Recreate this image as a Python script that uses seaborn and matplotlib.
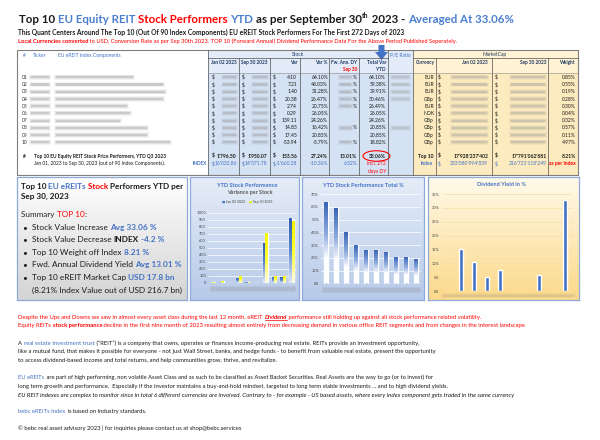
import numpy as np
import pandas as pd
import matplotlib
matplotlib.use("Agg")
import matplotlib.pyplot as plt
import seaborn as sns
from matplotlib.patches import Rectangle, Ellipse, Polygon
from matplotlib.lines import Line2D
from matplotlib.colors import LinearSegmentedColormap
from matplotlib.font_manager import FontProperties
from matplotlib.ticker import FuncFormatter

# values
stocks = ["01", "02", "03", "04", "05", "06", "07", "08", "09", "10"]
jan_price = [6.4, 15.0, 4.5, 77.0, 13.2, 1.1, 573.4, 90.3, 83.7, 931.6]
sep_price = [10.5, 22.2, 5.9, 97.4, 15.9, 1.4, 712.5, 105.1, 101.1, 877.7]
var_usd = [4.10, 7.21, 1.40, 20.38, 2.74, 0.29, 139.11, 14.83, 17.45, -53.94]
var_pct = [64.10, 48.03, 31.28, 26.47, 20.75, 26.05, 24.26, 16.42, 20.85, -5.79]
total_var_pct = [64.10, 59.38, 39.91, 30.46, 26.49, 26.05, 24.26, 20.85, 20.85, 18.82]
div_yield = [0, 15.0, 10.6, 5.2, 7.6, 0, 0, 5.8, 0, 32.8]
currency = ["EUR", "EUR", "EUR", "GBp", "EUR", "NOK", "GBp", "GBp", "GBp", "GBp"]
weight_pct = [0.85, 0.55, 0.19, 0.28, 0.30, 0.04, 0.32, 0.57, 0.11, 4.97]
has_dy = [1, 1, 1, 1, 1, 0, 0, 1, 0, 1]
has_pe = [1, 1, 1, 1, 0, 0, 0, 1, 0, 0]

top10_stock = ["1'796.50", "1'950.07", "153.56", "27.24%", "13.01%", "33.06%"]
index_stock = ["16'032.86", "14'371.78", "-1'660.28", "-10.36%", "6.52%"]
top10_mcap = ["17'928'237'402", "17'791'062'881", "8.21%"]
index_mcap = ["233'080'994'839", "216'721'118'249"]

W, H = 600, 440
FONT = ["Lato", "DejaVu Sans"]
BLUE = "#4472c4"
TBLUE = "#4a7fcf"
RED = "#ff0000"
INK = "#1a1a1a"
NAVY = "#1f3864"

sns.set_theme(style="white")
plt.rcParams["font.family"] = FONT

fig = plt.figure(figsize=(6, 4.4), dpi=100)
fig.patch.set_facecolor("white")
rend = fig.canvas.get_renderer()


def P(x, y):
    return x / W, 1 - y / H


def props(size, weight="normal", style="normal"):
    return FontProperties(family=FONT, size=size, weight=weight, style=style)


def advance(text, prop):
    w1 = rend.get_text_width_height_descent(text + "|", prop, False)[0]
    w0 = rend.get_text_width_height_descent("|", prop, False)[0]
    return w1 - w0


def line(x, y, parts, size=4.0, width=None, ha="left"):
    parts = [p if isinstance(p, tuple) else (p, INK) for p in parts]
    parts = [tuple(p) + (None,) * (5 - len(p)) for p in parts]

    def layout(s):
        out, cx = [], 0.0
        for text, color, weight, style, extra in parts:
            prop = props(s * (0.6 if extra == "sup" else 1), weight or "normal", style or "normal")
            a = advance(text, prop)
            out.append((cx, a, text, color, prop, extra))
            cx += a
        return out, cx

    if width:
        size = size * width / layout(size)[1]
    items, total = layout(size)
    x0 = x - {"left": 0, "center": total / 2, "right": total}[ha]
    em = size * 100 / 72
    base = y + 0.33 * em
    for cx, a, text, color, prop, extra in items:
        yy = base - 0.45 * em if extra == "sup" else base
        fig.text(*P(x0 + cx, yy), text, color=color, fontproperties=prop, va="baseline", ha="left")
        if extra == "u":
            fig.add_artist(Line2D([(x0 + cx) / W, (x0 + cx + a) / W], [1 - (base + 1) / H] * 2,
                                  transform=fig.transFigure, color=color, lw=0.5))
    return size


def txt(x, y, s, color=INK, size=3.8, weight="normal", ha="left"):
    return line(x, y, [(s, color, weight)], size=size, ha=ha)


def rect(x0, y0, x1, y1, **kw):
    fig.add_artist(Rectangle(P(x0, y1), (x1 - x0) / W, (y1 - y0) / H, transform=fig.transFigure, **kw))


def seg(x0, y0, x1, y1, color="#505050", lw=0.5):
    fig.add_artist(Line2D([x0 / W, x1 / W], [1 - y0 / H, 1 - y1 / H], transform=fig.transFigure, color=color, lw=lw))


def blur(x0, x1, y, h=2.6, color="#8c8c8c", a=1.0):
    for pad, alpha in [(1.6, 0.12), (0.8, 0.2), (0, 0.35)]:
        rect(x0 - pad, y - h / 2 - pad, x1 + pad, y + h / 2 + pad, color=color, alpha=alpha * a, lw=0)


def panel(x0, y0, x1, y1, top, bottom, edge="#8eaadb"):
    ax = fig.add_axes([x0 / W, 1 - y1 / H, (x1 - x0) / W, (y1 - y0) / H])
    cmap = LinearSegmentedColormap.from_list("", [top, bottom])
    ax.imshow(np.linspace(0, 1, 64).reshape(-1, 1), cmap=cmap, aspect="auto", extent=[0, 1, 0, 1])
    ax.set_xticks([])
    ax.set_yticks([])
    for s in ax.spines.values():
        s.set_color(edge)
        s.set_linewidth(0.9)
    return ax


def gradient_bars(ax, bars, cmap):
    for bar in bars:
        x, w, h = bar.get_x(), bar.get_width(), bar.get_height()
        if h <= 0:
            continue
        im = ax.imshow(np.linspace(0, 1, 64).reshape(-1, 1), cmap=cmap, origin="lower", aspect="auto",
                       extent=[x, x + w, 0, h], zorder=bar.get_zorder())
        im.set_clip_path(bar)
        bar.set_facecolor("none")


def style_chart(ax, ymax, step, fmt, grid="white"):
    ax.set_facecolor("none")
    ax.set_xlim(-0.5, 9.5)
    ax.set_ylim(0, ymax)
    ax.set_yticks(np.arange(0, ymax + 0.1, step))
    ax.yaxis.set_major_formatter(FuncFormatter(fmt))
    ax.set_xticklabels([])
    ax.set_xlabel("")
    ax.set_ylabel("")
    ax.tick_params(labelsize=2.8, colors="#404040", length=0, pad=1.5)
    ax.grid(axis="y", color=grid, lw=0.5)
    ax.set_axisbelow(True)
    sns.despine(ax=ax, left=True, bottom=True)


# ---------------- headline ----------------
line(19, 19, [("Top 10 ", INK, "bold"), ("EU Equity REIT ", TBLUE, "bold"), ("Stock Performers ", RED, "bold"),
              ("YTD ", TBLUE, "bold"), ("as per September 30", INK, "bold"), ("th", INK, "bold", None, "sup"),
              (" 2023 - ", INK, "bold"), ("Averaged At 33.06%", TBLUE, "bold")], width=492)
line(18, 32.5, [("This Quant Centers Around The Top 10 (Out Of 90 Index Components) EU eREIT Stock Performers "
                 "For The First 272 Days of 2023", INK, "bold")], width=384)
line(18, 41, [("Local Currencies converted", RED, "bold"),
              (" to USD, Conversion Rate as per Sep 30th 2023. TOP 10 (Forward Annual) Dividend Performance Data "
               "For the Above Period Published Seperately.", RED)], width=438)

# ---------------- table ----------------
rect(208, 50, 413, 73, color="#e2ebf7", lw=0)
rect(208, 73, 413, 175, color="#d5e2f3", lw=0)
rect(413, 50, 578, 73, color="#fff3d4", lw=0)
rect(413, 73, 578, 175, color="#fdebc0", lw=0)
rect(17, 50, 578, 175, fill=False, ec="#7f7f7f", lw=0.8)
for xv in [208, 388, 413]:
    seg(xv, 50, xv, 175)
for xv in [239, 270, 300, 329, 359, 436, 492, 548]:
    seg(xv, 58, xv, 175)
seg(208, 58, 388, 58)
seg(413, 58, 578, 58)
seg(208, 73, 578, 73, color="#8a8a8a", lw=0.4)

txt(23, 55, "#", BLUE, 3.5)
txt(33, 55, "Ticker", BLUE, 3.5)
txt(58, 55, "EU eREIT Index Components", BLUE, 3.5)
txt(298, 54.5, "Stock", NAVY, 3.5, ha="center")
txt(400, 55, "P/E Ratio", BLUE, 3.5, ha="center")
txt(495, 54.5, "MarketCap", NAVY, 3.5, ha="center")

hdr = dict(color=NAVY, size=3.4, weight="bold")
txt(224, 62, "Jan 02 2023", ha="center", **hdr)
txt(254.5, 62, "Sep 30 2023", ha="center", **hdr)
txt(297, 62, "Var", ha="right", **hdr)
txt(327, 62, "Var %", ha="right", **hdr)
txt(357, 62, "Fw. Ann. DY", ha="right", **hdr)
txt(386, 62, "Total Var", ha="right", **hdr)
txt(357, 69.5, "Sep 30", RED, 3.4, "bold", ha="right")
txt(386, 69.5, "YTD", ha="right", **hdr)
txt(425, 62, "Currency", ha="center", **hdr)
txt(488, 62, "Jan 02 2023", ha="right", **hdr)
txt(547, 62, "Sep 30 2023", ha="right", **hdr)
txt(576, 62, "Weight", ha="right", **hdr)

name_end = [133, 163, 165, 163, 127, 130, 120, 147, 147, 170]
for i, sid in enumerate(stocks):
    y = 77.3 + 7.22 * i
    txt(22, y, sid, "#333333", 3.6)
    blur(31, 49, y, 2.2, a=0.8)
    blur(56, name_end[i], y, 2.2, a=0.8)
    for xd in (212, 242, 273):
        txt(xd, y, "$", INK, 3.6)
    blur(223, 236, y, 2.2, a=0.7)
    blur(253, 267, y, 2.2, a=0.7)
    txt(297, y, f"{var_usd[i]:.2f}", INK, 3.6, ha="right")
    txt(328, y, f"{var_pct[i]:.2f}%", INK, 3.6, ha="right")
    if has_dy[i]:
        blur(340, 351, y, 2.2, a=0.7)
        txt(357, y, "%", INK, 3.6, ha="right")
    txt(386, y, f"{total_var_pct[i]:.2f}%", INK, 3.6, ha="right")
    if has_pe[i]:
        blur(392, 409, y, 2.2, a=0.6)
    txt(429, y, currency[i], INK, 3.6, ha="center")
    txt(438, y, "$", INK, 3.6)
    blur(452, 487, y, 2.2, a=0.7)
    txt(495, y, "$", INK, 3.6)
    blur(511, 545, y, 2.2, a=0.7)
    txt(576, y, f"{weight_pct[i]:.2f}%", INK, 3.6, ha="right")

ys, yi = 156, 163.8
txt(23, ys, "#", INK, 3.5, "bold")
line(34, ys, [("Top 10 EU Equity REIT Stock Price Performers, YTD Q3 2023", INK, "bold")], width=132)
line(34, yi, [("Jan 01, 2023 to Sep 30, 2023 (out of 90 Index Components).", INK)], width=129)
txt(207, yi, "INDEX", BLUE, 3.4, "bold", ha="right")
for k, (xd, xr) in enumerate([(212, 236.5), (242, 267.5), (273, 297)]):
    txt(xd, ys, "$", INK, 3.6, "bold")
    txt(xr, ys, top10_stock[k], INK, 3.6, "bold", ha="right")
    txt(xd, yi, "$", BLUE, 3.6)
    txt(xr, yi, index_stock[k], BLUE, 3.6, ha="right")
txt(328, ys, top10_stock[3], INK, 3.6, "bold", ha="right")
txt(357, ys, top10_stock[4], INK, 3.6, "bold", ha="right")
txt(386, ys, top10_stock[5], INK, 3.6, "bold", ha="right")
txt(328, yi, index_stock[3], BLUE, 3.6, ha="right")
txt(357, yi, index_stock[4], BLUE, 3.6, ha="right")
txt(386, yi, "incl. 272", RED, 3.6, ha="right")
txt(386, 171, "days DY", RED, 3.6, ha="right")
fig.add_artist(Ellipse(P(376.5, 156), 27 / W, 10.5 / H, transform=fig.transFigure, fill=False, ec=RED, lw=0.8))
txt(433, ys, "Top 10", INK, 3.6, "bold", ha="right")
txt(433, yi, "Index", BLUE, 3.6, "bold", ha="right")
txt(438, ys, "$", INK, 3.6, "bold")
txt(495, ys, "$", INK, 3.6, "bold")
txt(438, yi, "$", BLUE, 3.6)
txt(495, yi, "$", BLUE, 3.6)
txt(488, ys, top10_mcap[0], INK, 3.6, "bold", ha="right")
txt(547, ys, top10_mcap[1], INK, 3.6, "bold", ha="right")
txt(576, ys, top10_mcap[2], INK, 3.6, "bold", ha="right")
txt(488, yi, index_mcap[0], BLUE, 3.6, ha="right")
txt(547, yi, index_mcap[1], BLUE, 3.6, ha="right")
txt(576, yi, "as per Index", RED, 3.6, "bold", ha="right")

arrow = [(378.5, 45), (384.5, 45), (384.5, 52), (388, 52), (381.5, 60), (375, 52), (378.5, 52)]
fig.add_artist(Polygon([P(*v) for v in arrow], closed=True, transform=fig.transFigure, color=BLUE, lw=0))

# ---------------- summary box ----------------
panel(17, 177, 187, 300, "#ffffff", "#d4d4d4")
s_t = line(21, 186, [("Top 10 ", INK, "bold"), ("EU eREITs ", BLUE, "bold"), ("Stock ", RED, "bold"),
                     ("Performers YTD per", INK, "bold")], width=162)
line(21, 196.5, [("Sep 30, 2023", INK, "bold")], size=s_t)
line(21, 214, [("Summary ", "#262626"), ("TOP 10", RED), (":", "#262626")], width=64)
bullets = [
    [("Stock Value Increase ", INK), ("Avg 33.06 %", BLUE, "bold")],
    [("Stock Value Decrease ", INK), ("INDEX", INK, "bold"), (" -4.2 %", BLUE, "bold")],
    [("Top 10 Weight off Index ", INK), ("8.21 %", BLUE, "bold")],
    [("Fwd. Annual Dividend Yield ", INK), ("Avg 13.01 %", BLUE, "bold")],
    [("Top 10 eREIT Market Cap ", INK), ("USD 17.8 bn", BLUE, "bold")],
]
s_b = line(32, 264.5, bullets[3], width=147)
for i, parts in enumerate(bullets):
    y = 227 + 12.5 * i
    line(22, y, [("•", INK)], size=s_b)
    if i != 3:
        line(32, y, parts, size=s_b)
line(32, 290, [("(8.21% Index Value out of USD 216.7 bn)", INK)], size=s_b)

# ---------------- chart 1: price per stock ----------------
panel(190, 177, 299, 300, "#e6edf8", "#b7cae9")
ax1 = fig.add_axes([208 / W, 1 - 283 / H, 88 / W, 70.3 / H])
df1 = pd.DataFrame({
    "stock": stocks * 2,
    "date": ["Jan 02 2023"] * len(stocks) + ["Sep 30 2023"] * len(stocks),
    "price": jan_price + sep_price,
})
sns.barplot(data=df1, x="stock", y="price", hue="date", palette=[BLUE, "#ffff00"], width=0.55,
            saturation=1, errorbar=None, legend=False, ax=ax1)
gradient_bars(ax1, ax1.containers[0], LinearSegmentedColormap.from_list("", ["#dfe7f5", "#5b86cf", "#2f5db0"]))
gradient_bars(ax1, ax1.containers[1], LinearSegmentedColormap.from_list("", ["#fbfbe6", "#ffff33", "#f2f200"]))
style_chart(ax1, 1000, 100, lambda v, p: f"{int(v):,}".replace(",", "'"))
line(247, 185, [("YTD Stock Performance", BLUE, "bold")], width=60, ha="center")
line(249.5, 192, [("Variance per Stock", "#595959", "bold")], width=45, ha="center")
line(247, 202, [("■", BLUE), (" Jan 02 2023    ", "#404040"), ("■", "#e6e600"), (" Sep 30 2023", "#404040")],
     width=50, ha="center")
blur(211, 295, 289, 3.5, a=0.45)

# ---------------- chart 2: total variance % ----------------
panel(302, 177, 424, 300, "#e6edf8", "#b7cae9")
ax2 = fig.add_axes([321 / W, 1 - 283.5 / H, 100 / W, 89.5 / H])
df2 = pd.DataFrame({"stock": stocks, "total": total_var_pct})
sns.barplot(data=df2, x="stock", y="total", color=BLUE, width=0.32, saturation=1, errorbar=None, ax=ax2)
gradient_bars(ax2, ax2.containers[0],
              LinearSegmentedColormap.from_list("", [(0, "white"), (0.3, "white"), (0.6, "#8fabe0"), (1, "#3563b5")]))
style_chart(ax2, 70, 10, lambda v, p: f"{int(v)}%")
line(363, 185, [("YTD Stock Performance Total %", BLUE, "bold")], width=80, ha="center")
blur(323, 420, 290, 3.5, a=0.45)

# ---------------- chart 3: dividend yield ----------------
panel(428, 177, 579, 300, "#fffaeb", "#fcd98a")
ax3 = fig.add_axes([441.5 / W, 1 - 291 / H, 130 / W, 97 / H])
df3 = pd.DataFrame({"stock": stocks, "dy": div_yield})
sns.barplot(data=df3, x="stock", y="dy", color=BLUE, width=0.32, saturation=1, errorbar=None, ax=ax3)
style_chart(ax3, 35, 5, lambda v, p: f"{int(v)}%", grid="#f3dfa6")
line(502, 184, [("Dividend Yield in %", BLUE, "bold")], width=49, ha="center")
blur(443, 574, 295.5, 2.0, a=0.45)

# ---------------- comments ----------------
line(18.5, 317, [("Despite the Ups and Downs we saw in almost every asset class during the last 12 month, eREIT ", RED),
                 ("Dividend", RED, "bold", "italic", "u"),
                 (" performance still holding up against all stock performance related volatility.", RED)], width=456)
line(18.5, 325.5, [("Equity REITs ", RED), ("stock performance", RED, "bold"),
                   (" decline in the first nine month of 2023 resulting almost entirely from decreasing demand in "
                    "various office REIT segments and from changes in the interest landscape", RED)], width=498)
line(18.5, 343, [("A ", INK), ("real estate investment trust", BLUE),
                 (" (\u201cREIT\u201d) is a company that owns, operates or finances income-producing real estate. "
                  "REITs provide an investment opportunity,", INK)], width=400)
line(18.5, 351.5, [("like a mutual fund, that makes it possible for everyone - not just Wall Street, banks, and hedge "
                    "funds - to benefit from valuable real estate, present the opportunity", INK)], width=409)
line(18.5, 360, [("to access dividend-based income and total returns, and help communities grow, thrive, and "
                  "revitalize.", INK)], width=255)
line(18.5, 377.5, [("EU eREITs", BLUE),
                   (" are part of high performing, non volatile Asset Class and as such to be classified as Asset "
                    "Backet Securities. Real Assets are the way to go (or to invest) for", INK)], width=412)
line(18.5, 386, [("long term growth and performance.  Especially if the investor maintains a buy-and-hold mindset, "
                  "targeted to long term stable investments ... and to high dividend yields.", INK)], width=423)
line(18.5, 394.5, [("EU REIT indexes are complex to monitor since in total 6 different currencies are involved. "
                    "Contrary to - for example - US based assets, where every index component gets traded in the "
                    "same currency", INK, "normal", "italic")], width=498)
line(18.5, 411, [("bebc eREITs Index", BLUE), (" is based on industry standards.", INK)], width=126)
line(18.5, 428, [("\u00a9 bebc real asset advisory 2023 | for inquiries please contact us at shop@bebc.services", INK)],
     width=221)

fig.savefig("out.png", dpi=100, facecolor="white")
